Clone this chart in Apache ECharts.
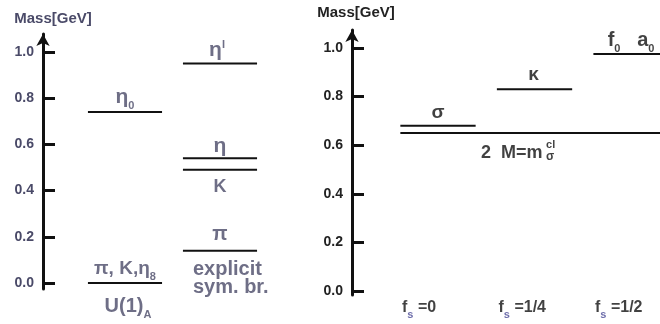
<!DOCTYPE html>
<html><head><meta charset="utf-8">
<script src="https://cdn.jsdelivr.net/npm/echarts@6/dist/echarts.min.js"></script>
<style>html,body{margin:0;padding:0;background:#fff}#c{width:660px;height:324px}</style>
</head><body><div id="c"></div>
<script>
// ---------------- data ----------------
const massTicks = [0.0, 0.2, 0.4, 0.6, 0.8, 1.0];
// left panel (pseudoscalar nonet)
const leftColumns = ['U(1)A', 'explicit sym. br.'];
const leftLevels = ['pi_K_eta8', 'eta0', 'pi', 'K', 'eta', 'etaPrime'];
const leftLevelColumn = [0, 0, 1, 1, 1, 1];
const leftLevelMass = [0.00, 0.74, 0.14, 0.49, 0.54, 0.95];
// right panel (scalar nonet vs f_s)
const rightColumns = ['0', '1/4', '1/2'];
const rightLevels = ['sigma', 'kappa', 'f0_a0'];
const rightLevelColumn = [0, 1, 2];
const rightLevelMass = [0.68, 0.83, 0.975];
const thresholdMass = 0.65; // 2M = m_sigma^cl

// ---------------- style ----------------
const INK = '#111111';
const SLATE = '#4a4a68';
const SUBBLUE = '#4a4a96';
const FONT = '"Liberation Sans", Arial, Helvetica, sans-serif';
const HALF = 0.39;

function rich(color, size) {
  return {
    t: {fontFamily: FONT, fontWeight: 'bold', fontSize: size, color: color, lineHeight: size + 2},
    sub: {fontFamily: FONT, fontWeight: 'bold', fontSize: 11, color: color, verticalAlign: 'bottom', lineHeight: 12, padding: [0, 0, -3, 0]},
    subb: {fontFamily: FONT, fontWeight: 'bold', fontSize: 11, color: SUBBLUE, verticalAlign: 'bottom', lineHeight: 12, padding: [0, 0, -4, 0]},
    sup: {fontFamily: FONT, fontWeight: 'bold', fontSize: 11, color: color, verticalAlign: 'top', lineHeight: 12}
  };
}

const leftText = {
  pi_K_eta8: '{t|π, K,η}{sub|8}',
  eta0: '{t|η}{sub|0}',
  pi: '{t|π}',
  K: '{t|K}',
  eta: '{t|η}',
  etaPrime: '{t|η}{sup|I}'
};
const leftSize = {pi_K_eta8: 19, eta0: 21, pi: 20, K: 18, eta: 21, etaPrime: 21};
const leftOffset = {
  pi_K_eta8: [0, -14], eta0: [0, -15], pi: [0, -16], K: [0, 17], eta: [0, -12], etaPrime: [-3, -13]
};
const rightText = {
  sigma: '{t|σ}',
  kappa: '{t|κ}',
  f0_a0: '{t|f}{sub|0}{t|   a}{sub|0}'
};
const rightSize = {sigma: 19, kappa: 19, f0_a0: 20};
const rightOffset = {sigma: [0, -13], kappa: [-1, -15], f0_a0: [0, -14]};

function levelLine(xi, yi, x0, x1, y) {
  return {
    type: 'line', xAxisIndex: xi, yAxisIndex: yi, data: [[x0, y], [x1, y]],
    symbol: 'none', silent: true, lineStyle: {color: INK, width: 2}, z: 3
  };
}
function labelItem(x, y, text, color, size, offset, align) {
  return {
    value: [x, y],
    label: {
      show: true, position: 'inside', offset: offset, align: align || 'center', verticalAlign: 'middle',
      formatter: text, rich: rich(color, size)
    }
  };
}

function yAx(gi, min, max, color, nameGap, padLeft) {
  return {
    type: 'value', gridIndex: gi, min: min, max: max,
    name: 'Mass[GeV]', nameLocation: 'end', nameGap: nameGap,
    nameTextStyle: {color: color, fontFamily: FONT, fontWeight: 'bold', fontSize: 15, align: 'center', padding: [0, 0, 0, padLeft]},
    axisLine: {show: true, onZero: false, symbol: ['none', 'arrow'], symbolSize: [10, 12], lineStyle: {color: INK, width: 3}},
    axisTick: {show: true, inside: true, length: 12, customValues: massTicks, lineStyle: {color: INK, width: 3}},
    axisLabel: {show: true, customValues: massTicks, margin: 9, formatter: v => v.toFixed(1), color: color, fontFamily: FONT, fontWeight: 'bold', fontSize: 14},
    splitLine: {show: false}
  };
}
function xAx(gi, min, max) {
  return {type: 'value', gridIndex: gi, min: min, max: max, show: false, splitLine: {show: false}};
}

const series = [];
// left levels
leftLevels.forEach((k, i) => {
  const c = leftLevelColumn[i];
  series.push(levelLine(0, 0, c - HALF, c + HALF, leftLevelMass[i]));
});
const leftLabels = leftLevels.map((k, i) => labelItem(leftLevelColumn[i], leftLevelMass[i], leftText[k], SLATE, leftSize[k], leftOffset[k]));
leftLabels.push(labelItem(0, 0, '{t|U(1)}{sub|A}', SLATE, 20, [3, 23]));
leftLabels.push({
  value: [1, 0],
  label: {show: true, position: 'inside', offset: [-27, -5], align: 'left', verticalAlign: 'middle',
    formatter: 'explicit\nsym. br.', color: SLATE, fontFamily: FONT, fontWeight: 'bold', fontSize: 20, lineHeight: 18}
});
series.push({type: 'scatter', xAxisIndex: 0, yAxisIndex: 0, symbolSize: 1, itemStyle: {color: 'rgba(0,0,0,0)'}, silent: true, data: leftLabels, z: 5});

// right levels
rightLevels.forEach((k, i) => {
  const c = rightLevelColumn[i];
  series.push(levelLine(1, 1, c - HALF, c + HALF, rightLevelMass[i]));
});
series.push(levelLine(1, 1, 0 - HALF, rightColumns.length + 1, thresholdMass));
const rightLabels = rightLevels.map((k, i) => labelItem(rightLevelColumn[i], rightLevelMass[i], rightText[k], INK, rightSize[k], rightOffset[k]));
rightLabels.push(labelItem(1, thresholdMass, '{t|2  M=m}', INK, 18, [-53.5, 20], 'left'));
rightLabels.push(labelItem(1, thresholdMass, '{sup|cl}', INK, 10, [11.5, 12], 'left'));
rightLabels.push(labelItem(1, thresholdMass, '{t|σ}', INK, 12, [11.5, 24], 'left'));
rightColumns.forEach((f, i) => {
  rightLabels.push(labelItem(i, 0, '{t|f}{subb|s}{t| =' + f + '}', INK, 16, [-36, 16], 'left'));
});
series.push({type: 'scatter', xAxisIndex: 1, yAxisIndex: 1, symbolSize: 1, itemStyle: {color: 'rgba(0,0,0,0)'}, silent: true, data: rightLabels, z: 5});

const option = {
  animation: false,
  backgroundColor: '#ffffff',
  grid: [
    {left: 43, top: 34, width: 234, bottom: 35},
    {left: 352, top: 30, right: 0, bottom: 29}
  ],
  xAxis: [xAx(0, -0.863, 1.6), xAx(1, -0.891, 2.30)],
  yAxis: [yAx(0, -0.026, 1.078, SLATE, 8, 20), yAx(1, -0.016, 1.074, '#222222', 10, 8)],
  series: series
};
const chart = echarts.init(document.getElementById('c'), null, {renderer: 'canvas'});
chart.setOption(option);
</script></body></html>
